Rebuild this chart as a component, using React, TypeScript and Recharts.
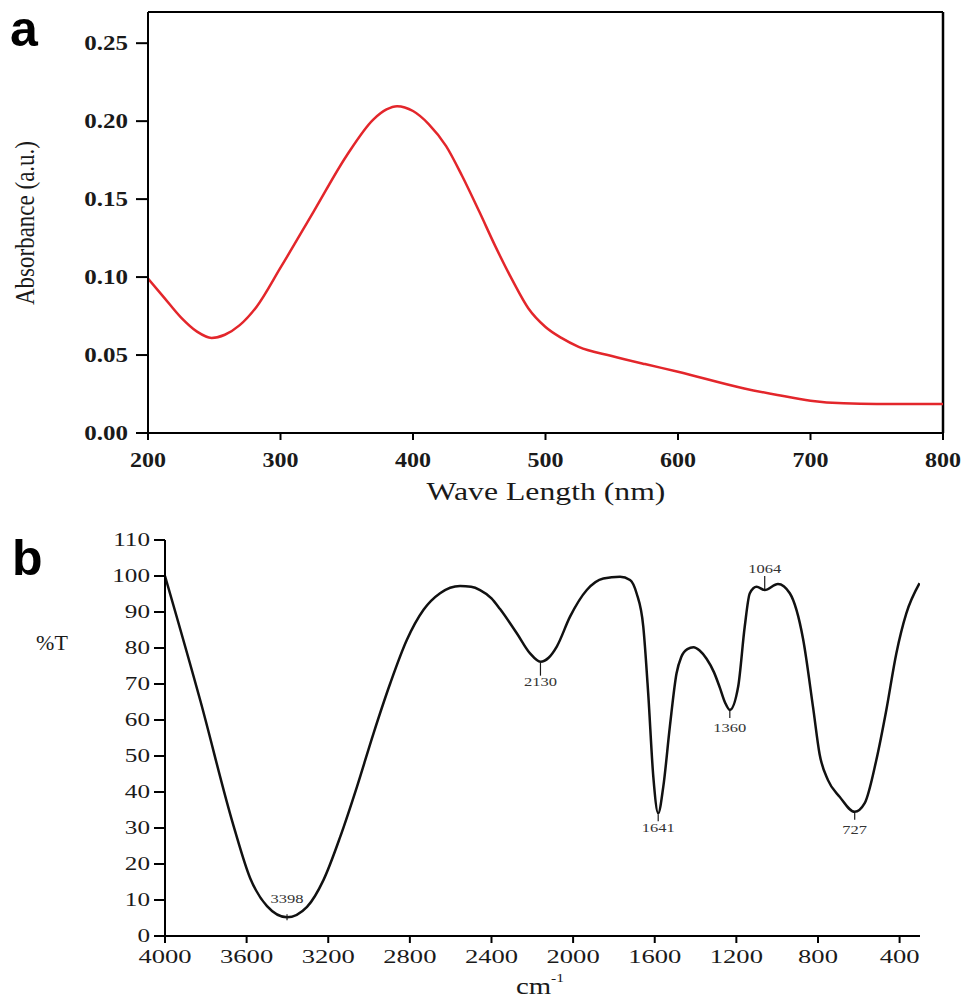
import React from 'react';
import { LineChart, Line, XAxis, YAxis, ReferenceLine, ReferenceDot } from 'recharts';

// ---------- Panel a: UV-Vis ----------
const uvWavelength = [200, 212, 225, 237, 248, 258, 269, 282, 300, 325, 350, 370, 380, 388, 400, 412, 425, 437, 450, 462, 475, 487, 500, 512, 525, 550, 575, 600, 650, 675, 700, 725, 750, 800];
const uvAbsorbance = [0.099, 0.087, 0.074, 0.065, 0.061, 0.063, 0.069, 0.081, 0.106, 0.142, 0.178, 0.201, 0.2075, 0.2096, 0.2065, 0.198, 0.184, 0.165, 0.142, 0.12, 0.098, 0.08, 0.068, 0.061, 0.0553, 0.0494, 0.0442, 0.0393, 0.0286, 0.0244, 0.0207, 0.019, 0.0186, 0.0186];
const uvXTicks = [200, 300, 400, 500, 600, 700, 800];
const uvYTicks = [0, 0.05, 0.1, 0.15, 0.2, 0.25];

// ---------- Panel b: FTIR ----------
const irWavenumber = [4000, 3826, 3663, 3582, 3500, 3402, 3304, 3223, 3141, 3059, 2978, 2896, 2815, 2733, 2652, 2554, 2500, 2456, 2400, 2358, 2276, 2211, 2160, 2120, 2080, 2015, 1933, 1852, 1770, 1721, 1689, 1656, 1632, 1607, 1583, 1558, 1526, 1493, 1470, 1440, 1410, 1380, 1346, 1310, 1281, 1255, 1232, 1191, 1159, 1134, 1101, 1061, 996, 938, 873, 824, 792, 751, 694, 620, 571, 514, 465, 416, 367, 302];
const irTransmittance = [100, 65.2, 30.4, 16, 8.3, 5.2, 8.1, 15.6, 27.6, 41.5, 56.3, 70.2, 82.2, 90.6, 95.2, 97.2, 97, 96.1, 93.8, 90.8, 84.1, 78.5, 76.2, 77.3, 80.4, 88.7, 96.1, 99.3, 99.8, 98.9, 95.2, 85.9, 67.4, 44.3, 34.1, 41.5, 58.1, 73, 77.5, 79.7, 80.2, 79.3, 77, 73.3, 69, 64.8, 62.8, 69.3, 85.9, 95.2, 97, 96.1, 97.8, 95.2, 82.5, 63.5, 50.5, 43.3, 38.7, 34.5, 36.9, 48.9, 62.8, 78.5, 89.6, 98];
const irXTicks = [4000, 3600, 3200, 2800, 2400, 2000, 1600, 1200, 800, 400];
const irYTicks = [0, 10, 20, 30, 40, 50, 60, 70, 80, 90, 100, 110];
const peakLabels = ['3398', '2130', '1641', '1360', '1064', '727'];
const peakWavenumber = [3402, 2160, 1583, 1232, 1061, 620];
const peakTransmittance = [5.2, 76.2, 34.1, 62.8, 96.1, 34.5];

const uvData = uvWavelength.map((w, i) => ({ w, a: uvAbsorbance[i] }));
const irData = irWavenumber.map((cm, i) => ({ cm, t: irTransmittance[i] }));

// styling of peak annotations (tick line start/end and text baseline relative to the mark)
const peakStyle = [
  { t0: 3, t1: -3, text: -14 },
  { t0: 1, t1: 14, text: 24 },
  { t0: 1, t1: 8, text: 19 },
  { t0: 1, t1: 8, text: 22 },
  { t0: -1, t1: -14, text: -17 },
  { t0: 1, t1: 8, text: 22 },
];

const SERIF = '"Liberation Serif", "Times New Roman", serif';
const INK = '#1a1a1a';

const makeTick = (o: { sx: number; size: number; weight: string; anchor: string; dy: string; fmt: (v: number) => string }) =>
  (props: any) => {
    const { x, y, payload } = props;
    return (
      <g transform={`translate(${x},${y}) scale(${o.sx},1)`}>
        <text x={0} y={0} dy={o.dy} textAnchor={o.anchor} fontFamily={SERIF} fontSize={o.size} fontWeight={o.weight} fill={INK}>
          {o.fmt(payload.value)}
        </text>
      </g>
    );
  };

const uvXTick = makeTick({ sx: 1.2, size: 20, weight: 'bold', anchor: 'middle', dy: '0.71em', fmt: (v) => String(v) });
const uvYTick = makeTick({ sx: 1.25, size: 20, weight: 'bold', anchor: 'end', dy: '0.355em', fmt: (v) => v.toFixed(2) });
const irXTick = makeTick({ sx: 1.4, size: 19, weight: 'normal', anchor: 'middle', dy: '0.71em', fmt: (v) => String(v) });
const irYTick = makeTick({ sx: 1.4, size: 18, weight: 'normal', anchor: 'end', dy: '0.355em', fmt: (v) => String(v) });

const UvXTitle = () => (
  <g transform="translate(546,500) scale(1.22,1)">
    <text x={0} y={0} textAnchor="middle" fontFamily={SERIF} fontSize={26} fill={INK}>Wave Length (nm)</text>
  </g>
);
const UvYTitle = () => (
  <g transform="translate(34,223) rotate(-90) scale(1,1.2)">
    <text x={0} y={0} textAnchor="middle" fontFamily={SERIF} fontSize={23} fill={INK}>Absorbance (a.u.)</text>
  </g>
);
const IrXTitle = () => (
  <g transform="translate(540,484) scale(1.2,1)">
    <text x={0} y={0} textAnchor="middle" fontFamily={SERIF} fontSize={24} fill={INK}>
      cm<tspan fontSize={13} dy={-12}>-1</tspan>
    </text>
  </g>
);
const IrYTitle = () => (
  <g transform="translate(52,140) scale(1.1,1)">
    <text x={0} y={0} textAnchor="middle" fontFamily={SERIF} fontSize={20} fill={INK}>%T</text>
  </g>
);

const PeakMark = (props: any) => {
  const { cx, cy, idx } = props;
  const s = peakStyle[idx];
  return (
    <g>
      <line x1={cx} x2={cx} y1={cy + s.t0} y2={cy + s.t1} stroke={INK} strokeWidth={1.2} />
      <g transform={`translate(${cx},${cy + s.text}) scale(1.27,1)`}>
        <text x={0} y={0} textAnchor="middle" fontFamily={SERIF} fontSize={13} fill="#333">{peakLabels[idx]}</text>
      </g>
    </g>
  );
};

export default function App() {
  return (
    <div style={{ position: 'absolute', left: 0, top: 0, width: 964, height: 999, background: '#fff', overflow: 'hidden' }}>
      <div style={{ position: 'absolute', left: 0, top: 0 }}>
        <LineChart width={964} height={515} data={uvData} margin={{ top: 12, right: 21, bottom: 0, left: 0 }}>
          <XAxis
            dataKey="w"
            type="number"
            domain={[200, 800]}
            ticks={uvXTicks}
            allowDataOverflow
            height={82}
            stroke="#000"
            strokeWidth={2}
            tickSize={7}
            tickMargin={13}
            tick={uvXTick}
            label={<UvXTitle />}
          />
          <YAxis
            type="number"
            domain={[0, 0.27]}
            ticks={uvYTicks}
            allowDataOverflow
            width={148}
            stroke="#000"
            strokeWidth={2}
            tickSize={12}
            tickMargin={8}
            tick={uvYTick}
            label={<UvYTitle />}
          />
          <ReferenceLine y={0.27} stroke="#000" strokeWidth={2} />
          <ReferenceLine x={800} stroke="#000" strokeWidth={2.5} />
          <Line type="monotone" dataKey="a" stroke="#e3262b" strokeWidth={2.5} dot={false} isAnimationActive={false} />
        </LineChart>
      </div>
      <div style={{ position: 'absolute', left: 0, top: 510 }}>
        <LineChart width={964} height={489} data={irData} margin={{ top: 30, right: 44, bottom: 0, left: 0 }}>
          <XAxis
            dataKey="cm"
            type="number"
            domain={[300, 4000]}
            reversed
            ticks={irXTicks}
            allowDataOverflow
            height={63}
            stroke="#000"
            strokeWidth={2}
            tickSize={7}
            tickMargin={7}
            tick={irXTick}
            label={<IrXTitle />}
          />
          <YAxis
            type="number"
            domain={[0, 110]}
            ticks={irYTicks}
            allowDataOverflow
            width={165}
            stroke="#000"
            strokeWidth={2}
            tickSize={11}
            tickMargin={4}
            tick={irYTick}
            label={<IrYTitle />}
          />
          <Line type="monotone" dataKey="t" stroke="#111" strokeWidth={2.5} dot={false} isAnimationActive={false} />
          {peakLabels.map((lab, i) => (
            <ReferenceDot
              key={lab}
              x={peakWavenumber[i]}
              y={peakTransmittance[i]}
              r={0}
              shape={(p: any) => <PeakMark {...p} idx={i} />}
            />
          ))}
        </LineChart>
      </div>
      <svg width={964} height={999} style={{ position: 'absolute', left: 0, top: 0, pointerEvents: 'none' }}>
        <text x={10} y={46} fontFamily='"Liberation Sans", Arial, sans-serif' fontWeight="bold" fontSize={50} fill="#000">a</text>
        <text x={12} y={575} fontFamily='"Liberation Sans", Arial, sans-serif' fontWeight="bold" fontSize={50} fill="#000">b</text>
      </svg>
    </div>
  );
}
